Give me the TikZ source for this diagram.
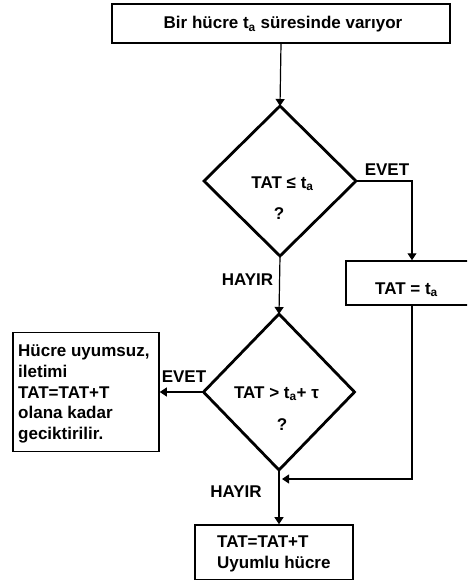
\documentclass[tikz,border=0pt]{standalone}
\usepackage{fontspec}
\setmainfont{Liberation Sans}
\usetikzlibrary{arrows.meta,shapes.geometric}

\tikzset{
  txt/.style={font=\bfseries\fontsize{17}{20.6}\selectfont, inner sep=0pt},
  box/.style={draw, line width=1.5pt, rectangle, inner sep=0pt},
  decision/.style={draw, line width=2.8pt, diamond, inner sep=0pt, outer sep=0pt},
  flow/.style={line width=1.2pt, -{Triangle[length=7pt,width=9pt]}},
  plain/.style={line width=1.2pt}
}

\begin{document}
\begin{tikzpicture}[x=1pt,y=-1pt]
\useasboundingbox (0,0) rectangle (467,581);
\clip (0,0) rectangle (467,581);

% boxes
\node[box, minimum width=338pt, minimum height=39pt] (start) at (281,23.5) {};
\node[box, minimum width=132pt, minimum height=44pt] (set) at (412,283) {};
\node[box, minimum width=146pt, minimum height=119pt] (fail) at (86,392) {};
\node[box, minimum width=158pt, minimum height=54.5pt] (ok) at (274,552.2) {};

% decisions
\node[decision, minimum width=152pt, minimum height=150pt] (d1) at (280,181) {};
\node[decision, minimum width=151pt, minimum height=156pt] (d2) at (279,392) {};

% texts
\node[txt, anchor=base] (tstart) at (283,28.5) {Bir hücre t\textsubscript{a} süresinde varıyor};
\node[txt, anchor=base] (td1) at (282.5,188) {TAT ≤ t\textsubscript{a}};
\node[txt] (qd1) at (279,214) {?};
\node[txt, anchor=base] (td2) at (276.5,398) {TAT > t\textsubscript{a}+ τ};
\node[txt] (qd2) at (282,425) {?};
\node[txt, anchor=base] (tset) at (406.5,294) {TAT = t\textsubscript{a}};
\node[txt, anchor=north west, align=left] (tfail) at (18,345) {Hücre uyumsuz,\\iletimi\\TAT=TAT+T\\olana kadar\\geciktirilir.};
\node[txt, anchor=north west, align=left] (tok) at (217,535.8) {TAT=TAT+T\\Uyumlu hücre};

% branch labels
\node[txt] (evet1) at (387,170) {EVET};
\node[txt] (hayir1) at (247.5,280) {HAYIR};
\node[txt] (evet2) at (184,377) {EVET};
\node[txt] (hayir2) at (236,492) {HAYIR};

% connectors
\coordinate (merge) at (282,479);
\draw[flow] (start.south) -- (d1.north);
\draw[flow] (d1.east) -| (set.north);
\draw[flow] (d1.south) -- (d2.north);
\draw[flow] (d2.west) -- (fail.east);
\draw[flow] (set.south) |- (merge);
\draw[flow] (d2.south) -- (d2.south |- ok.north);
\end{tikzpicture}
\end{document}
